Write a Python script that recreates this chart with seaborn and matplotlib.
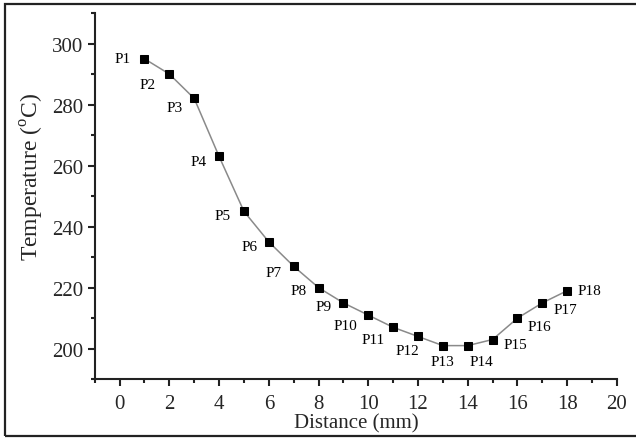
import matplotlib
matplotlib.use('Agg')
import matplotlib.pyplot as plt
from matplotlib.patches import Rectangle
from matplotlib.ticker import AutoMinorLocator, MultipleLocator
import seaborn as sns

# values
distance = [1, 2, 3, 4, 5, 6, 7, 8, 9, 10, 11, 12, 13, 14, 15, 16, 17, 18]
temperature = [295, 290, 282, 263, 245, 235, 227, 220, 215, 211, 207, 204,
               201, 201, 203, 210, 215, 219]
point_names = ['P%d' % (i + 1) for i in range(len(distance))]

# label placement (pixel offsets, alignment)
label_pos = [(-14, 0, 'right'), (-14, -10, 'right'), (-12, -9, 'right'),
             (-12, -5, 'right'), (-13, -4, 'right'), (-11, -5, 'right'),
             (-12, -6, 'right'), (-12, -3, 'right'), (-12, -4, 'right'),
             (-11, -10, 'right'), (-8, -12, 'right'), (1, -14, 'right'),
             (0, -16, 'center'), (2, -16, 'left'), (11, -5, 'left'),
             (10, -8, 'left'), (11, -7, 'left'), (10, 0, 'left')]

sns.set_style('ticks')
plt.rcParams['font.family'] = ['Liberation Serif', 'DejaVu Serif']
plt.rcParams['mathtext.fontset'] = 'custom'
plt.rcParams['mathtext.rm'] = 'Liberation Serif'


def main():
    fig = plt.figure(figsize=(6.36, 4.39), dpi=100)
    ax = fig.add_axes([0.149, 0.134, 0.821, 0.834])

    sns.lineplot(x=distance, y=temperature, color='#8a8a8a', lw=1.1,
                 marker='s', markersize=6, markerfacecolor='black',
                 markeredgecolor='black', ax=ax)

    for x, y, name, (dx, dy, ha) in zip(distance, temperature, point_names, label_pos):
        ax.annotate(name, (x, y), xytext=(dx, dy), textcoords='offset pixels',
                    ha=ha, va='center', fontsize=11, color='black')

    ax.set_xlim(-1, 20)
    ax.set_ylim(190, 310)
    ax.xaxis.set_major_locator(MultipleLocator(2))
    ax.xaxis.set_minor_locator(AutoMinorLocator(2))
    ax.set_yticks([200, 220, 240, 260, 280, 300])
    ax.yaxis.set_minor_locator(AutoMinorLocator(2))

    ax.spines['top'].set_visible(False)
    ax.spines['right'].set_visible(False)
    for s in ['left', 'bottom']:
        ax.spines[s].set_linewidth(1.5)
        ax.spines[s].set_color('#222222')
    ax.tick_params(which='major', direction='out', length=5, width=1.5,
                   labelsize=15, color='#222222')
    ax.tick_params(axis='x', which='major', pad=6)
    ax.tick_params(axis='y', which='major', pad=3)
    ax.tick_params(which='minor', direction='out', length=3, width=1.5,
                   color='#222222')

    ax.set_xlabel('Distance (mm)', fontsize=15, labelpad=0)
    ax.set_ylabel('Temperature ($^{\\mathrm{o}}$C)', fontsize=17)
    ax.yaxis.set_label_coords(-0.093, 0.555)

    # outer frame around the whole picture
    fig.patches.append(Rectangle((0.008, 0.004), 1.0, 0.984, transform=fig.transFigure,
                                 fill=False, edgecolor='#222222', lw=1.6))

    plt.savefig('out.png', dpi=100)


if __name__ == '__main__':
    main()
